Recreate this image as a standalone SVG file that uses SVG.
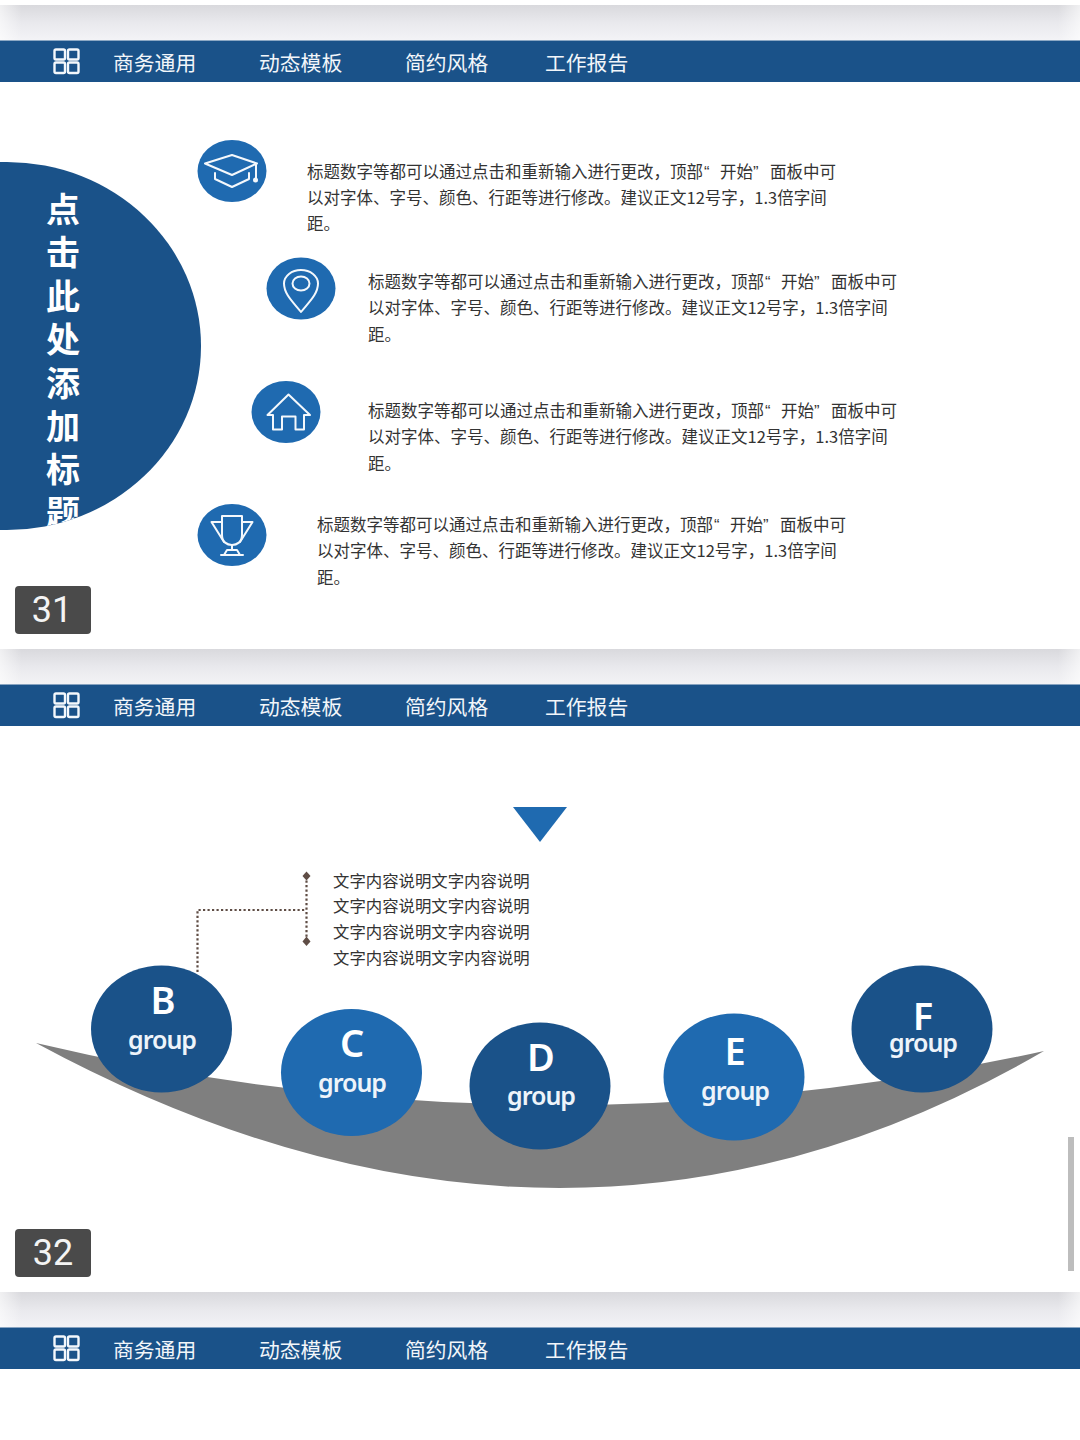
<svg xmlns="http://www.w3.org/2000/svg" width="1080" height="1440" viewBox="0 0 1080 1440">
<style>
.nav{font:20.800px "Noto Sans CJK SC","Noto Sans",sans-serif;fill:#f2f6fa}
.body{font:16.500px "Noto Sans CJK SC","Noto Sans",sans-serif;fill:#333}
.q{font-family:"Liberation Sans",sans-serif}
.title{font:bold 34px "Noto Sans CJK SC","Noto Sans",sans-serif;fill:#fff;text-anchor:middle}
.num{font:36px "Roboto","Liberation Sans",sans-serif;fill:#f4f4f4;text-anchor:middle}
.letter{font:600 38px "Noto Sans","Liberation Sans",sans-serif;fill:#fff;text-anchor:middle}
.grp{font:600 25px "Noto Sans","Liberation Sans",sans-serif;fill:#eef4fa;text-anchor:middle;letter-spacing:-1px}
.dark{fill:#1a5289}
.mid{fill:#1f6ab0}
.ico{fill:none;stroke:#f4f8fc;stroke-width:2;stroke-linejoin:round;stroke-linecap:round}
.dot{fill:none;stroke:#5f4d45;stroke-width:2.200;stroke-dasharray:2.200 2.300}
.dia{fill:#5f4d45}
.badge{fill:#4a4a4a}
</style>
<defs>
<linearGradient id="gap" x1="0" y1="0" x2="0" y2="1"><stop offset="0" stop-color="#d9d9dd"/><stop offset=".5" stop-color="#e9e9ed"/><stop offset="1" stop-color="#f3f3f6"/></linearGradient>
<linearGradient id="edge" x1="0" y1="0" x2="1" y2="0"><stop offset="0" stop-color="#fff" stop-opacity=".6"/><stop offset=".02" stop-color="#fff" stop-opacity="0"/><stop offset=".98" stop-color="#fff" stop-opacity="0"/><stop offset="1" stop-color="#fff" stop-opacity=".6"/></linearGradient>
<clipPath id="blob"><ellipse cx="7" cy="346" rx="194" ry="184"/></clipPath>
<g id="band">
<rect x="0" y="0" width="1080" height="41.500" class="dark"/>
<g fill="none" stroke="#f4f8fc" stroke-width="2.400">
<rect x="54.500" y="9" width="10.500" height="10" rx="1.500"/><rect x="68" y="9" width="10.500" height="10" rx="1.500"/>
<rect x="54.500" y="22" width="10.500" height="10.500" rx="1.500"/><rect x="68" y="22" width="10.500" height="10.500" rx="1.500"/>
</g>
<text class="nav" x="113" y="30">商务通用</text>
<text class="nav" x="259" y="30">动态模板</text>
<text class="nav" x="405" y="30">简约风格</text>
<text class="nav" x="545" y="30">工作报告</text>
</g>
</defs>
<rect width="1080" height="1440" fill="#fff"/>
<g id="gaps">
<rect x="0" y="5" width="1080" height="35" fill="url(#gap)"/>
<rect x="0" y="649" width="1080" height="36" fill="url(#gap)"/>
<rect x="0" y="1292" width="1080" height="36" fill="url(#gap)"/>
<rect x="0" y="5" width="1080" height="35" fill="url(#edge)"/>
<rect x="0" y="649" width="1080" height="36" fill="url(#edge)"/>
<rect x="0" y="1292" width="1080" height="36" fill="url(#edge)"/>
</g>
<use href="#band" y="40.500"/>
<use href="#band" y="684.500"/>
<use href="#band" y="1327.500"/>

<g id="title-blob">
<ellipse class="dark" cx="7" cy="346" rx="194" ry="184"/>
<g clip-path="url(#blob)">
<text class="title" x="63" y="222">点</text>
<text class="title" x="63" y="265">击</text>
<text class="title" x="63" y="309">此</text>
<text class="title" x="63" y="352">处</text>
<text class="title" x="63" y="396">添</text>
<text class="title" x="63" y="439">加</text>
<text class="title" x="63" y="482">标</text>
<text class="title" x="63" y="525">题</text>
</g>
</g>

<g id="item-1">
<ellipse class="mid" cx="232" cy="171" rx="34.500" ry="31"/>
<path class="ico" d="M205 163.500L232 155L257 163.500L232 175Z"/>
<path class="ico" d="M215 173V179L232 187L249 179V173"/>
<path class="ico" d="M256 165L256 178"/>
<circle cx="255.500" cy="180" r="2.500" fill="#f4f8fc"/>
<text class="body" x="307" y="178">标题数字等都可以通过点击和重新输入进行更改，顶部<tspan class="q" x="704">“</tspan><tspan x="720">开始</tspan><tspan class="q" x="753">”</tspan><tspan x="770">面板中可</tspan></text>
<text class="body" x="307" y="204">以对字体、字号、颜色、行距等进行修改。建议正文12号字，1.3倍字间</text>
<text class="body" x="307" y="230">距。</text>
</g>
<g id="item-2">
<ellipse class="mid" cx="301" cy="288.500" rx="34.500" ry="31"/>
<path class="ico" d="M301 312C293 302 284 294 284 283.500A17 13.500 0 0 1 318 283.500C318 294 309 302 301 312Z"/>
<ellipse class="ico" cx="301" cy="283.500" rx="8.500" ry="7"/>
<text class="body" x="368" y="288">标题数字等都可以通过点击和重新输入进行更改，顶部<tspan class="q" x="765">“</tspan><tspan x="781">开始</tspan><tspan class="q" x="814">”</tspan><tspan x="831">面板中可</tspan></text>
<text class="body" x="368" y="314">以对字体、字号、颜色、行距等进行修改。建议正文12号字，1.3倍字间</text>
<text class="body" x="368" y="341">距。</text>
</g>
<g id="item-3">
<ellipse class="mid" cx="286" cy="412" rx="34.500" ry="31"/>
<path class="ico" d="M267.500 415L288.500 394.500L310 415H304V429.500H295.500V416.500H282V429.500H273V415Z"/>
<text class="body" x="368" y="417">标题数字等都可以通过点击和重新输入进行更改，顶部<tspan class="q" x="765">“</tspan><tspan x="781">开始</tspan><tspan class="q" x="814">”</tspan><tspan x="831">面板中可</tspan></text>
<text class="body" x="368" y="443">以对字体、字号、颜色、行距等进行修改。建议正文12号字，1.3倍字间</text>
<text class="body" x="368" y="470">距。</text>
</g>
<g id="item-4">
<ellipse class="mid" cx="232" cy="535" rx="34.500" ry="31"/>
<path class="ico" d="M222 516H242V535C242 542 237 545 232 545C227 545 222 542 222 535Z"/>
<path class="ico" d="M222 522H211.500L224 542M242 522H252.500L240 542"/>
<path class="ico" d="M232 545V550M227 550H237L240 555H224Z"/>
<path class="ico" d="M221 555H243"/>
<text class="body" x="317" y="531">标题数字等都可以通过点击和重新输入进行更改，顶部<tspan class="q" x="714">“</tspan><tspan x="730">开始</tspan><tspan class="q" x="763">”</tspan><tspan x="780">面板中可</tspan></text>
<text class="body" x="317" y="557">以对字体、字号、颜色、行距等进行修改。建议正文12号字，1.3倍字间</text>
<text class="body" x="317" y="584">距。</text>
</g>

<g id="badge-31"><rect class="badge" x="15" y="586" width="76" height="48" rx="4"/><text class="num" x="52" y="622">31</text></g>
<g id="badge-32"><rect class="badge" x="15" y="1229" width="76" height="48" rx="4"/><text class="num" x="53" y="1265">32</text></g>

<path id="arc" fill="#7f7f7f" d="M36 1043Q565 1329 1044 1051Q540 1163 36 1043Z"/>
<polygon id="pointer" class="mid" points="513,807 567,807 540,842"/>

<g id="connectors">
<path class="dot" d="M197.500 972V910H306"/>
<path class="dot" d="M306.500 876V941"/>
<path class="dia" d="M306.500 871.500L310.500 876L306.500 880.500L302.500 876Z"/>
<path class="dia" d="M306.500 936.500L310.500 941.500L306.500 946L302.500 941.500Z"/>
</g>
<g id="note">
<text class="body" x="333" y="887" style="font-size:16.400px">文字内容说明文字内容说明</text>
<text class="body" x="333" y="912" style="font-size:16.400px">文字内容说明文字内容说明</text>
<text class="body" x="333" y="938" style="font-size:16.400px">文字内容说明文字内容说明</text>
<text class="body" x="333" y="964" style="font-size:16.400px">文字内容说明文字内容说明</text>
</g>

<g id="node-b"><ellipse class="dark" cx="161.500" cy="1029" rx="70.500" ry="63.500"/><text class="letter" x="163" y="1014">B</text><text class="grp" x="162" y="1049">group</text></g>
<g id="node-c"><ellipse class="mid" cx="351.500" cy="1072.500" rx="70.500" ry="63.500"/><text class="letter" x="352" y="1057">C</text><text class="grp" x="352" y="1092">group</text></g>
<g id="node-d"><ellipse class="dark" cx="540" cy="1086" rx="70.500" ry="63.500"/><text class="letter" x="541" y="1071">D</text><text class="grp" x="541" y="1105">group</text></g>
<g id="node-e"><ellipse class="mid" cx="734" cy="1077" rx="70.500" ry="63.500"/><text class="letter" x="735" y="1065">E</text><text class="grp" x="735" y="1100">group</text></g>
<g id="node-f"><ellipse class="dark" cx="922" cy="1029" rx="70.500" ry="63.500"/><text class="letter" x="923" y="1030">F</text><text class="grp" x="923" y="1052">group</text></g>

<rect id="scrollbar" x="1068" y="1137" width="6" height="134" fill="#bdbdbd"/>
</svg>
